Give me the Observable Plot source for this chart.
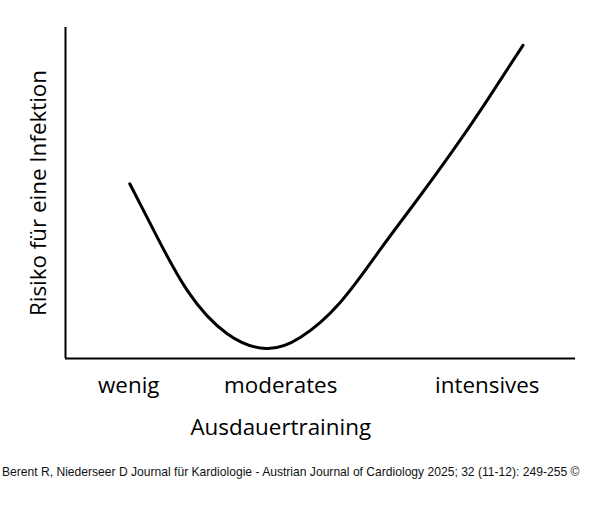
<!DOCTYPE html>
<html>
<head>
<meta charset="utf-8">
<script src="https://cdn.jsdelivr.net/npm/d3@7"></script>
<script src="https://cdn.jsdelivr.net/npm/@observablehq/plot@0.6"></script>
<style>
  html, body { margin: 0; padding: 0; background: #fff; }
  #caption { font-family: "Liberation Sans", Arial, sans-serif; font-size: 12.1px; line-height: 15px; color: #111; padding-left: 2px; white-space: nowrap; }
</style>
</head>
<body>
<div id="chart"></div>
<div id="caption"></div>
<script>
// Data (abstract units, 0–100 on both axes)
const trainingLevel = [12.6, 17.3, 23.9, 31.7, 39.4, 46.1, 53.9, 61.8, 68.6, 75.5, 82.0, 89.7];
const infectionRisk = [52.8, 38.7, 20.5, 7.5, 3.0, 6.4, 17.0, 33.1, 47.2, 61.8, 76.4, 94.6];
const tickPositions = [12.4, 42.2, 82.7];
const tickLabels = ["wenig", "moderates", "intensives"];
const xLabelPosition = 42.2;
const xLabel = "Ausdauertraining";
const yLabel = "Risiko für eine Infektion";
const captionText = "Berent R, Niederseer D Journal für Kardiologie - Austrian Journal of Cardiology 2025; 32 (11-12): 249-255 ©";

const curve = trainingLevel.map((x, i) => ({x, y: infectionRisk[i]}));
const ticks = tickPositions.map((x, i) => ({x, label: tickLabels[i]}));

const plot = Plot.plot({
  width: 600,
  height: 465,
  marginLeft: 65,
  marginRight: 25,
  marginTop: 27,
  marginBottom: 107,
  style: {fontFamily: "'Open Sans', sans-serif", background: "#fff", color: "#000"},
  x: {domain: [0, 100], axis: null},
  y: {domain: [0, 100], axis: null},
  marks: [
    Plot.ruleX([0], {stroke: "#000", strokeWidth: 2}),
    Plot.ruleY([0], {stroke: "#000", strokeWidth: 2}),
    Plot.line(curve, {x: "x", y: "y", curve: "natural", stroke: "#000", strokeWidth: 3}),
    Plot.text(ticks, {x: "x", text: "label", frameAnchor: "bottom", dy: 34, fontSize: 22.4, fill: "#000"}),
    Plot.text([xLabel], {x: [xLabelPosition], frameAnchor: "bottom", dy: 76, fontSize: 22.4, fill: "#000"}),
    Plot.text([yLabel], {frameAnchor: "left", textAnchor: "middle", dx: -27, rotate: -90, fontSize: 22.4, fill: "#000"})
  ]
});
document.getElementById("chart").appendChild(plot);
document.getElementById("caption").textContent = captionText;
</script>
</body>
</html>
